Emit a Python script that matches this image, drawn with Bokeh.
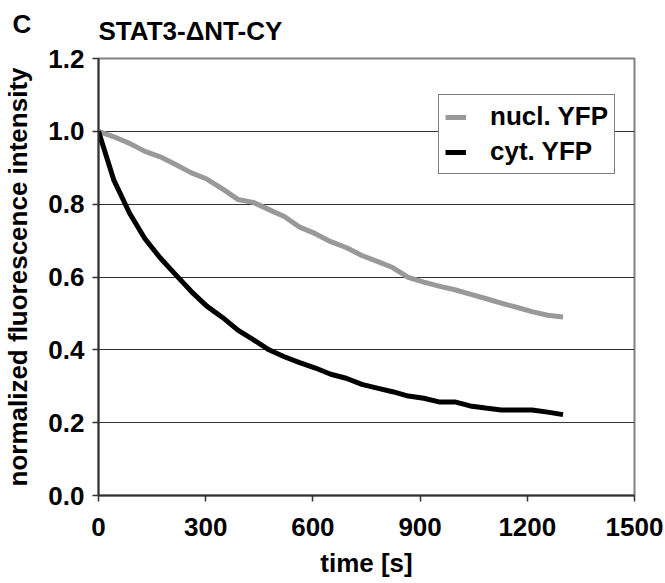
from bokeh.plotting import figure
from bokeh.models import FixedTicker, NumeralTickFormatter, Legend, LegendItem, Label, Range1d
from bokeh.embed import file_html
from bokeh.resources import INLINE

time_s = [0, 43, 87, 130, 173, 217, 260, 303, 347, 390, 433, 477, 520, 563, 607, 650,
          693, 737, 780, 823, 867, 910, 953, 997, 1040, 1083, 1127, 1170, 1213, 1257, 1300]
nucl_yfp = [1.000, 0.985, 0.967, 0.945, 0.930, 0.908, 0.886, 0.869, 0.842, 0.813, 0.805,
            0.785, 0.766, 0.737, 0.719, 0.697, 0.681, 0.659, 0.643, 0.626, 0.599, 0.586,
            0.575, 0.565, 0.553, 0.541, 0.528, 0.517, 0.505, 0.495, 0.490]
cyt_yfp = [1.000, 0.866, 0.775, 0.705, 0.652, 0.605, 0.560, 0.520, 0.489, 0.454, 0.428,
           0.400, 0.381, 0.365, 0.350, 0.333, 0.322, 0.305, 0.295, 0.285, 0.273, 0.267,
           0.257, 0.257, 0.246, 0.240, 0.235, 0.235, 0.235, 0.229, 0.222]
x_ticks = [0, 300, 600, 900, 1200, 1500]
y_ticks = [0.0, 0.2, 0.4, 0.6, 0.8, 1.0, 1.2]
title_text = "STAT3-\u0394NT-CY"
panel_letter = "C"
series_names = ["nucl. YFP", "cyt. YFP"]

FONT = "Liberation Sans"

p = figure(width=665, height=583, output_backend="svg", toolbar_location=None,
           x_range=Range1d(0, 1500), y_range=Range1d(0, 1.2),
           min_border_left=97, min_border_right=31, min_border_top=58, min_border_bottom=88)

p.title.text = title_text
p.title.text_font = FONT
p.title.text_font_size = "26px"
p.title.text_font_style = "bold"
p.title.text_color = "black"
p.title.offset = 0
p.title.standoff = 26

p.outline_line_color = "#808080"
p.outline_line_width = 2

p.xgrid.visible = False
p.ygrid.ticker = FixedTicker(ticks=y_ticks)
p.ygrid.grid_line_color = "#333333"
p.ygrid.grid_line_width = 1

for ax in (p.xaxis[0], p.yaxis[0]):
    ax.axis_line_color = "#333333"
    ax.axis_line_width = 2
    ax.major_tick_line_color = "#333333"
    ax.major_tick_line_width = 1.5
    ax.major_tick_in = 0
    ax.major_tick_out = 6
    ax.minor_tick_line_color = None
    ax.major_label_text_font = FONT
    ax.major_label_text_font_size = "26px"
    ax.major_label_text_font_style = "bold"
    ax.major_label_text_color = "black"
    ax.axis_label_text_font = FONT
    ax.axis_label_text_font_size = "26px"
    ax.axis_label_text_font_style = "bold"
    ax.axis_label_text_color = "black"

p.xaxis.ticker = FixedTicker(ticks=x_ticks)
p.yaxis.ticker = FixedTicker(ticks=y_ticks)
p.yaxis.formatter = NumeralTickFormatter(format="0.0")
p.xaxis.axis_label = "time [s]"
p.yaxis.axis_label = "normalized fluorescence intensity"
p.xaxis.major_label_standoff = 16
p.yaxis.major_label_standoff = 8
p.xaxis.axis_label_standoff = 9
p.yaxis.axis_label_standoff = 12

r_nucl = p.line(time_s, nucl_yfp, line_color="#999999", line_width=5, line_join="round")
r_cyt = p.line(time_s, cyt_yfp, line_color="black", line_width=5, line_join="round")

legend = Legend(items=[LegendItem(label=series_names[0], renderers=[r_nucl]),
                       LegendItem(label=series_names[1], renderers=[r_cyt])],
                location=(340, 321))
legend.label_text_font = FONT
legend.label_text_font_size = "26px"
legend.label_text_font_style = "bold"
legend.label_text_color = "black"
legend.border_line_color = "black"
legend.border_line_width = 1
legend.background_fill_color = "white"
legend.background_fill_alpha = 1
legend.glyph_width = 21
legend.glyph_height = 26
legend.label_standoff = 24
legend.spacing = 4
legend.padding = 6
legend.margin = 0
p.add_layout(legend, "center")

letter = Label(x=-622, y=472, x_units="screen", y_units="screen", text=panel_letter,
               text_font=FONT, text_font_size="26px", text_font_style="bold",
               text_color="black", text_baseline="alphabetic")
p.add_layout(letter, "right")

open("out.html", "w").write(file_html(p, INLINE))
